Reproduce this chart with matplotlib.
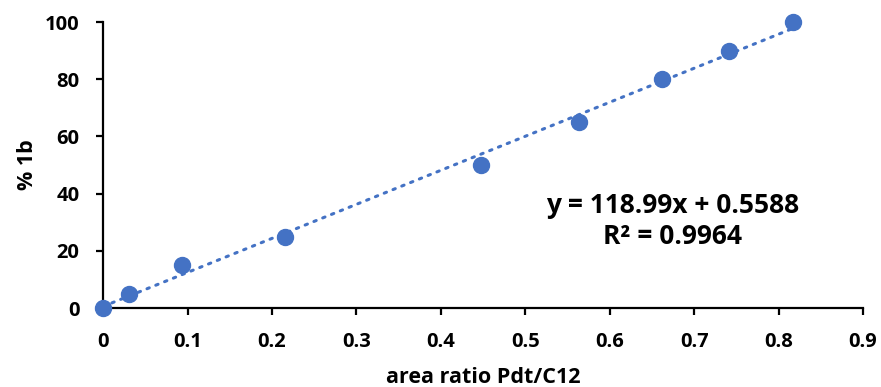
import numpy as np
import matplotlib
matplotlib.use("Agg")
import matplotlib.pyplot as plt

plt.rcParams['font.family'] = ['Open Sans', 'DejaVu Sans']
plt.rcParams['font.weight'] = 'bold'

# data
area_ratio = [0.0, 0.031, 0.0935, 0.2155, 0.448, 0.564, 0.662, 0.741, 0.817]
pct_1b = [0, 5, 15, 25, 50, 65, 80, 90, 100]
x_ticks = [0, 0.1, 0.2, 0.3, 0.4, 0.5, 0.6, 0.7, 0.8, 0.9]
x_tick_labels = ["0", "0.1", "0.2", "0.3", "0.4", "0.5", "0.6", "0.7", "0.8", "0.9"]
y_ticks = [0, 20, 40, 60, 80, 100]
slope = 118.99
intercept = 0.5588
r_squared = 0.9964

blue = "#4472C4"

fig = plt.figure(figsize=(8.81, 3.87), dpi=100)
ax = fig.add_axes([0.117, 0.204, 0.8625, 0.739])

# linear trendline over the data range
xs = np.array([min(area_ratio), max(area_ratio)])
ax.plot(xs, slope * xs + intercept, color=blue, lw=2.2,
        linestyle=(0, (0.8, 2.3)), dash_capstyle='round', zorder=2)
ax.plot(area_ratio, pct_1b, 'o', color=blue, markersize=11.5, zorder=3,
        clip_on=False)

ax.set_xlim(0, 0.9)
ax.set_ylim(0, 100)
ax.set_xticks(x_ticks)
ax.set_xticklabels(x_tick_labels)
ax.set_yticks(y_ticks)

for side in ['top', 'right']:
    ax.spines[side].set_visible(False)
for side in ['left', 'bottom']:
    ax.spines[side].set_linewidth(1.6)
ax.tick_params(axis='both', direction='out', length=5, width=1.6,
               labelsize=14.5)
ax.tick_params(axis='y', pad=12)
ax.tick_params(axis='x', pad=12)
for lbl in ax.get_xticklabels() + ax.get_yticklabels():
    lbl.set_fontweight('bold')

ax.set_xlabel("area ratio Pdt/C12", fontsize=15.5, fontweight='bold', labelpad=11)
ax.set_ylabel("% 1b", fontsize=15.5, fontweight='bold', labelpad=5)

ax.text(0.674, 30.5, "y = %.2fx + %.4f\nR\u00b2 = %.4f" % (slope, intercept, r_squared),
        ha='center', va='center', fontsize=19, fontweight='bold',
        linespacing=1.2)

fig.savefig("out.png", dpi=100)
